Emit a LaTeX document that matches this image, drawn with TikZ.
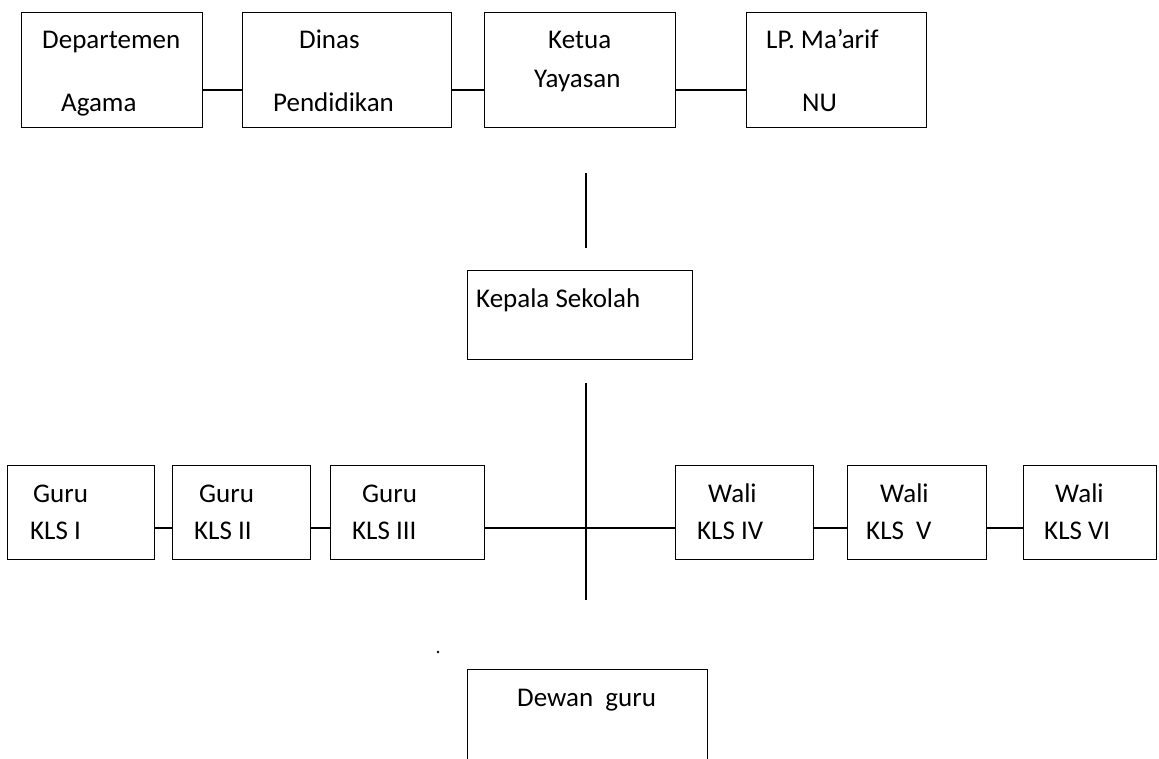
\documentclass[tikz,border=0pt]{standalone}
\usepackage{fontspec}
\setmainfont{Carlito}
\begin{document}
\begin{tikzpicture}[x=1pt, y=-1pt,
        box/.style={draw, line width=1.4pt, inner sep=0pt, anchor=north west},
        txt/.style={anchor=base west, inner sep=0pt, font=\fontsize{27}{32}\selectfont},
        link/.style={line width=1.4pt}]
        \path[use as bounding box, fill=white] (0,0) rectangle (1159,758);
        \node[box, minimum width=181pt, minimum height=115pt] (dep) at (21,12){};
        \node[box, minimum width=209pt, minimum height=115pt] (din) at (242,12){};
        \node[box, minimum width=191pt, minimum height=115pt] (ket) at (484,12){};
        \node[box, minimum width=180pt, minimum height=115pt] (lpm) at (746,12){};
        \node[txt] (dep1) at (42,48){Departemen};
        \node[txt] (dep2) at (61,111){Agama};
        \node[txt] (din1) at (299,48){Dinas};
        \node[txt] (din2) at (273,111){Pendidikan};
        \node[txt] (ket1) at (548,48){Ketua};
        \node[txt] (ket2) at (534,87){Yayasan};
        \node[txt] (lpm1) at (766,48){LP. Ma’arif};
        \node[txt] (lpm2) at (802,111){NU};
        \coordinate (rowa) at (0,90);
        \draw[link] (dep.east |- rowa) -- (din.west |- rowa);
        \draw[link] (din.east |- rowa) -- (ket.west |- rowa);
        \draw[link] (ket.east |- rowa) -- (lpm.west |- rowa);
        \coordinate (va) at (586,173);
        \coordinate (vb) at (586,248);
        \draw[link] (va) -- (vb);
        \node[box, minimum width=225pt, minimum height=89pt] (kep) at (467,270){};
        \node[txt] (kep1) at (476,307){Kepala Sekolah};
        \coordinate (vc) at (586,383);
        \coordinate (vd) at (586,600);
        \draw[link] (vc) -- (vd);
        \node[box, minimum width=147pt, minimum height=94pt] (g1) at (7,465){};
        \node[box, minimum width=138pt, minimum height=94pt] (g2) at (172,465){};
        \node[box, minimum width=154pt, minimum height=94pt] (g3) at (330,465){};
        \node[box, minimum width=138pt, minimum height=94pt] (w4) at (675,465){};
        \node[box, minimum width=139pt, minimum height=94pt] (w5) at (847,465){};
        \node[box, minimum width=133pt, minimum height=94pt] (w6) at (1023,465){};
        \node[txt] (g1a) at (33,502){Guru};
        \node[txt] (g1b) at (30,539){KLS I};
        \node[txt] (g2a) at (199,502){Guru};
        \node[txt] (g2b) at (194,539){KLS II};
        \node[txt] (g3a) at (362,502){Guru};
        \node[txt] (g3b) at (352,539){KLS III};
        \node[txt] (w4a) at (708,502){Wali};
        \node[txt] (w4b) at (697,539){KLS IV};
        \node[txt] (w5a) at (880,502){Wali};
        \node[txt] (w5b) at (866,539){KLS\ \ V};
        \node[txt] (w6a) at (1055,502){Wali};
        \node[txt] (w6b) at (1044,539){KLS VI};
        \coordinate (rowb) at (0,528);
        \draw[link] (g1.east |- rowb) -- (g2.west |- rowb);
        \draw[link] (g2.east |- rowb) -- (g3.west |- rowb);
        \draw[link] (g3.east |- rowb) -- (w4.west |- rowb);
        \draw[link] (w4.east |- rowb) -- (w5.west |- rowb);
        \draw[link] (w5.east |- rowb) -- (w6.west |- rowb);
        \coordinate (dot) at (438,652);
        \fill (dot) circle (1.3);
        \node[box, minimum width=240pt, minimum height=120pt] (dew) at (467,669){};
        \node[txt] (dew1) at (517,706){Dewan\ \ guru};
        \end{tikzpicture}
\end{document}
